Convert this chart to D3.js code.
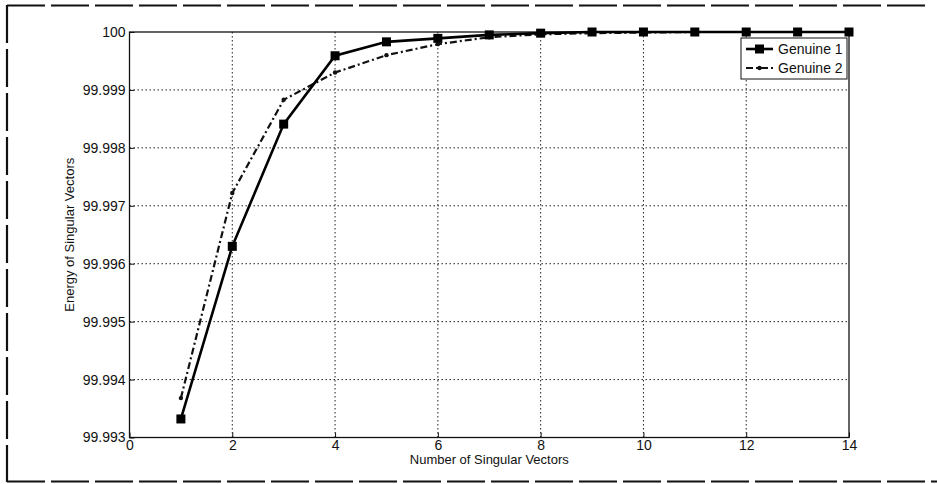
<!DOCTYPE html>
<html>
<head>
<meta charset="utf-8">
<script src="https://cdn.jsdelivr.net/npm/d3@7"></script>
<style>
  html, body { margin: 0; padding: 0; background: #fff; }
  svg { display: block; font-family: Arial, "Liberation Sans", sans-serif; }
</style>
</head>
<body>
<svg id="chart" width="937" height="484"></svg>
<script>
// Number of singular vectors retained
const vectors = [1, 2, 3, 4, 5, 6, 7, 8, 9, 10, 11, 12, 13, 14];
// Cumulative energy (%) for each signature
const genuine1 = [99.99332, 99.99630, 99.99841, 99.99959, 99.99983, 99.99989, 99.99995,
                  99.99998, 100, 100, 100, 100, 100, 100];
const genuine2 = [99.99368, 99.99722, 99.99883, 99.99930, 99.99960, 99.99979, 99.99991,
                  99.99996, 99.99998, 99.99999, 100, 100, 100, 100];
const seriesNames = ["Genuine 1", "Genuine 2"];
const xTicks = [0, 2, 4, 6, 8, 10, 12, 14];
const yTicks = [99.993, 99.994, 99.995, 99.996, 99.997, 99.998, 99.999, 100];
const yTickLabels = ["99.993", "99.994", "99.995", "99.996", "99.997", "99.998", "99.999", "100"];
const xTitle = "Number of Singular Vectors";
const yTitle = "Energy of Singular Vectors";

const svg = d3.select("#chart");
const plotL = 129.5, plotR = 849, plotT = 32, plotB = 437.5;

const x = d3.scaleLinear().domain([0, 14]).range([plotL, plotR]);
const y = d3.scaleLinear().domain([99.993, 100]).range([plotB, plotT]);

// Dashed outer frame (top, left, bottom)
const frame = svg.append("g").attr("fill", "none").attr("stroke", "#111")
  .attr("stroke-width", 2.2).attr("stroke-dasharray", "38,6");
frame.append("line").attr("x1", 7).attr("y1", 5.5).attr("x2", 929).attr("y2", 5.5);
frame.append("line").attr("x1", 7).attr("y1", 5).attr("x2", 7).attr("y2", 482);
frame.append("line").attr("x1", 7).attr("y1", 481.5).attr("x2", 937).attr("y2", 481.5);

// Dotted grid
const grid = svg.append("g").attr("stroke", "#222").attr("stroke-width", 1)
  .attr("stroke-dasharray", "1.5,2.5");
grid.selectAll(".gx").data(xTicks.slice(1, -1)).join("line")
  .attr("x1", d => x(d)).attr("x2", d => x(d)).attr("y1", plotT).attr("y2", plotB);
grid.selectAll(".gy").data(yTicks.slice(1, -1)).join("line")
  .attr("x1", plotL).attr("x2", plotR).attr("y1", d => y(d)).attr("y2", d => y(d));

// Axes with inward ticks
const xAxis = d3.axisBottom(x).tickValues(xTicks).tickSize(-5).tickPadding(3).tickFormat(d3.format("d"));
const yAxis = d3.axisLeft(y).tickValues(yTicks).tickSize(-5).tickPadding(4)
  .tickFormat((d, i) => yTickLabels[i]);

const gx = svg.append("g").attr("transform", `translate(0,${plotB})`).call(xAxis);
const gy = svg.append("g").attr("transform", `translate(${plotL},0)`).call(yAxis);
[gx, gy].forEach(g => {
  g.select(".domain").remove();
  g.selectAll(".tick line").attr("stroke", "#111").attr("stroke-width", 1);
  g.selectAll("text").attr("fill", "#111").attr("font-size", 14)
    .attr("font-family", "Arial, 'Liberation Sans', sans-serif");
});

// Axes box
svg.append("rect").attr("x", plotL).attr("y", plotT)
  .attr("width", plotR - plotL).attr("height", plotB - plotT)
  .attr("fill", "none").attr("stroke", "#111").attr("stroke-width", 1.3);

// Axis titles
svg.append("text").attr("x", (plotL + plotR) / 2).attr("y", 464)
  .attr("text-anchor", "middle").attr("font-size", 13).attr("fill", "#111").text(xTitle);
svg.append("text").attr("transform", `translate(74,${(plotT + plotB) / 2}) rotate(-90)`)
  .attr("text-anchor", "middle").attr("font-size", 13).attr("fill", "#111").text(yTitle);

// Series
const line = d3.line().x(d => x(d[0])).y(d => y(d[1]));
const d1 = vectors.map((v, i) => [v, genuine1[i]]);
const d2 = vectors.map((v, i) => [v, genuine2[i]]);

svg.append("path").datum(d2).attr("d", line).attr("fill", "none")
  .attr("stroke", "#111").attr("stroke-width", 2.2).attr("stroke-dasharray", "7,3,2,3");
svg.append("g").selectAll("circle").data(d2).join("circle")
  .attr("cx", d => x(d[0])).attr("cy", d => y(d[1])).attr("r", 2.2).attr("fill", "#111");

svg.append("path").datum(d1).attr("d", line).attr("fill", "none")
  .attr("stroke", "#000").attr("stroke-width", 2.6);
svg.append("g").selectAll("rect").data(d1).join("rect")
  .attr("x", d => x(d[0]) - 4.5).attr("y", d => y(d[1]) - 4.5)
  .attr("width", 9).attr("height", 9).attr("fill", "#000");

// Legend
const lg = svg.append("g");
lg.append("rect").attr("x", 741).attr("y", 38).attr("width", 106).attr("height", 41)
  .attr("fill", "#fff").attr("stroke", "#111").attr("stroke-width", 1);
const ly = [49, 68];
lg.append("line").attr("x1", 746).attr("x2", 773).attr("y1", ly[0]).attr("y2", ly[0])
  .attr("stroke", "#000").attr("stroke-width", 2.6);
lg.append("rect").attr("x", 755).attr("y", ly[0] - 4.5).attr("width", 9).attr("height", 9).attr("fill", "#000");
lg.append("line").attr("x1", 746).attr("x2", 773).attr("y1", ly[1]).attr("y2", ly[1])
  .attr("stroke", "#111").attr("stroke-width", 2.2).attr("stroke-dasharray", "7,3,2,3");
lg.append("circle").attr("cx", 759.5).attr("cy", ly[1]).attr("r", 2.2).attr("fill", "#111");
lg.selectAll("text").data(seriesNames).join("text")
  .attr("x", 778).attr("y", (d, i) => ly[i] + 5).attr("font-size", 14).attr("fill", "#111").text(d => d);
</script>
</body>
</html>
